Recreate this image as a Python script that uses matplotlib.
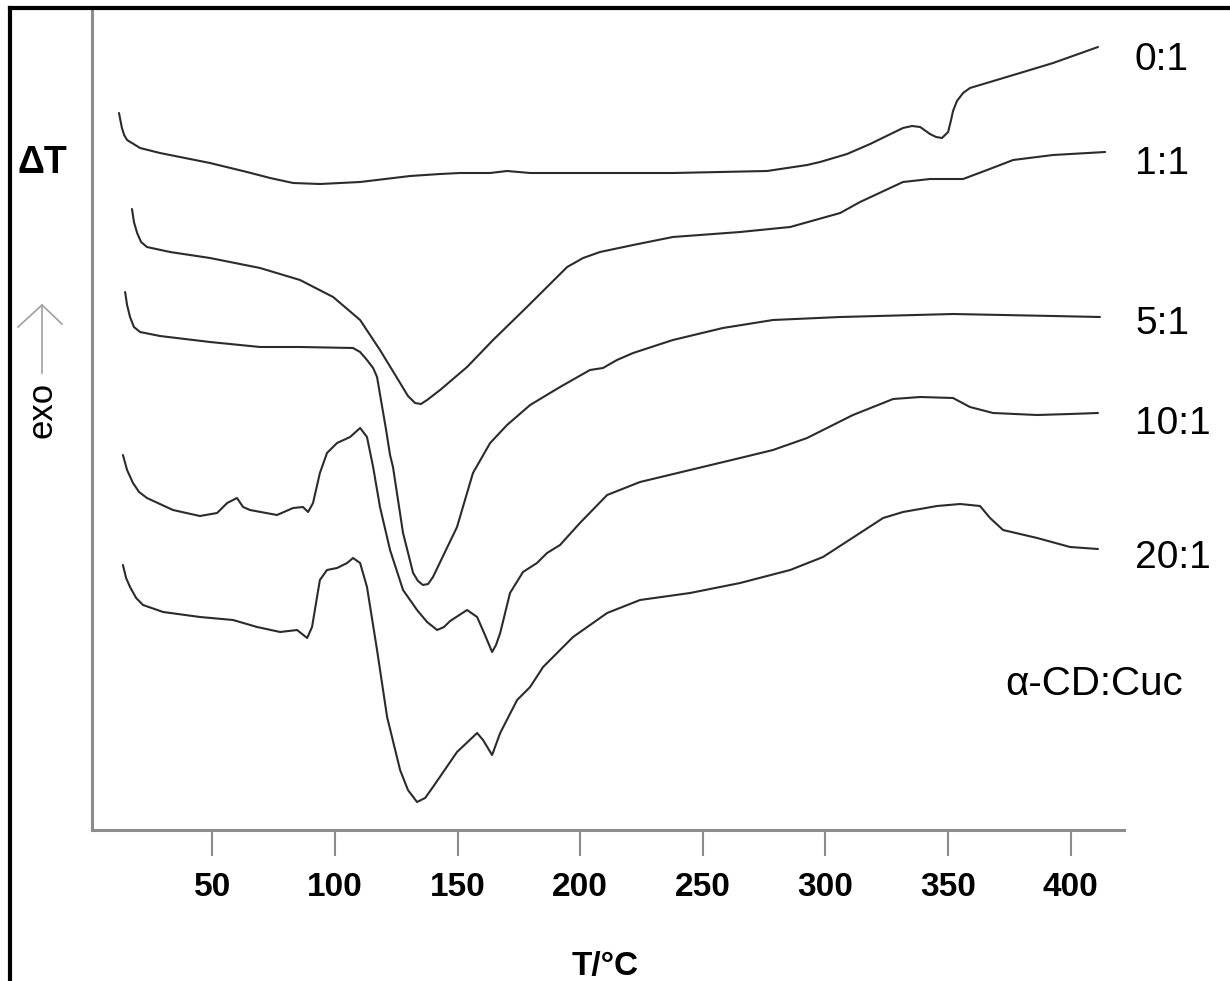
import matplotlib
matplotlib.use("Agg")
import matplotlib.pyplot as plt
from matplotlib.lines import Line2D

plt.rcParams['font.family'] = ['Liberation Sans', 'DejaVu Sans']

# DSC curves, temperature in degC, signal in arbitrary units
t_0_1 = [12.0, 13.2, 14.1, 15.3, 20.6, 28.7, 38.9, 49.1, 64.2, 73.6, 83.0, 93.9, 110.3, 130.7,
         142.9, 151.0, 163.3, 170.2, 179.6, 237.8, 276.2, 292.5, 297.8, 308.8, 318.2, 331.6,
         335.3, 338.6, 342.6, 345.1, 347.5, 350.0, 351.2, 352.0, 353.6, 356.1, 358.9, 363.0,
         379.3, 392.8, 411.1]
s_0_1 = [71.7, 70.2, 69.5, 69.0, 68.2, 67.7, 67.2, 66.7, 65.8, 65.2, 64.7, 64.6, 64.8, 65.4,
         65.6, 65.7, 65.7, 65.9, 65.7, 65.7, 65.9, 66.5, 66.8, 67.6, 68.6, 70.2,
         70.4, 70.3, 69.6, 69.3, 69.2, 69.8, 71.0, 71.9, 72.9, 73.7, 74.2, 74.5,
         75.7, 76.7, 78.3]

t_1_1 = [17.3, 18.1, 19.4, 21.0, 23.4, 32.8, 49.1, 69.5, 85.8, 99.3, 110.3, 118.4, 126.6, 129.8,
         132.7, 135.1, 137.6, 142.9, 153.9, 164.5, 178.3, 194.7, 201.2, 208.1, 221.6, 237.8,
         265.2, 285.6, 306.0, 314.1, 331.6, 342.6, 356.1, 365.9, 376.5, 392.8, 414.0]
s_1_1 = [62.1, 60.8, 59.7, 58.8, 58.3, 57.8, 57.2, 56.2, 55.0, 53.3, 51.0, 48.0, 44.7, 43.4,
         42.7, 42.6, 43.0, 44.0, 46.3, 49.0, 52.3, 56.3, 57.2, 57.8, 58.5, 59.3,
         59.8, 60.3, 61.7, 62.8, 64.8, 65.1, 65.1, 66.0, 67.0, 67.5, 67.8]

t_5_1 = [14.5, 15.3, 16.5, 18.1, 20.6, 28.7, 49.1, 69.5, 85.8, 107.4, 110.3, 113.1, 115.6, 117.2,
         118.8, 120.9, 122.5, 123.7, 127.8, 131.9, 133.9, 135.9, 138.0, 140.0, 149.8, 156.3,
         163.3, 170.2, 179.6, 191.8, 204.0, 209.3, 215.0, 221.6, 237.8, 258.2, 278.6, 306.0,
         352.0, 392.8, 411.9]
s_5_1 = [53.8, 52.5, 51.3, 50.3, 49.8, 49.4, 48.8, 48.3, 48.3, 48.2, 47.8, 47.0, 46.2, 45.3,
         43.0, 40.0, 37.5, 36.3, 29.7, 25.7, 24.9, 24.5, 24.6, 25.3, 30.3, 35.7,
         38.7, 40.5, 42.5, 44.3, 46.0, 46.2, 47.0, 47.7, 49.0, 50.2, 51.0, 51.3,
         51.6, 51.4, 51.3]

t_10_1 = [13.6, 15.3, 17.7, 20.2, 23.4, 34.0, 45.0, 52.0, 56.1, 60.1, 62.6, 65.4, 76.4, 83.0,
          87.0, 89.1, 91.1, 93.9, 96.8, 100.9, 106.2, 110.3, 113.1, 115.6, 118.4, 122.5, 127.8,
          133.5, 137.6, 141.7, 144.5, 147.0, 153.9, 158.0, 161.2, 164.1, 165.7, 167.4, 171.4,
          176.7, 182.4, 186.5, 191.8, 199.9, 211.0, 224.4, 244.8, 265.2, 278.6, 292.5, 311.2,
          327.6, 338.6, 352.0, 358.9, 368.3, 386.3, 399.7, 411.1]
s_10_1 = [37.5, 36.0, 34.7, 33.8, 33.2, 32.0, 31.4, 31.7, 32.7, 33.2, 32.3, 32.0, 31.5, 32.2,
          32.3, 31.8, 32.7, 35.7, 37.7, 38.7, 39.3, 40.2, 39.3, 36.3, 32.3, 28.0, 24.0,
          22.0, 20.8, 20.0, 20.3, 20.9, 22.0, 21.3, 19.5, 17.8, 18.5, 19.7, 23.7,
          25.8, 26.7, 27.7, 28.5, 30.7, 33.5, 34.8, 36.0, 37.2, 38.0, 39.2, 41.5,
          43.1, 43.3, 43.2, 42.3, 41.7, 41.5, 41.6, 41.7]

t_20_1 = [13.6, 14.9, 16.5, 19.0, 21.8, 30.0, 45.0, 58.5, 68.3, 77.7, 84.6, 88.7, 90.7, 93.9,
          96.8, 100.9, 105.0, 107.4, 110.3, 113.1, 117.2, 121.3, 126.6, 129.8, 133.5, 136.8,
          140.0, 149.8, 158.0, 160.4, 164.1, 167.4, 174.3, 179.6, 184.9, 197.1, 211.0, 224.4,
          244.8, 265.2, 285.6, 299.0, 314.1, 323.5, 331.6, 345.5, 354.9, 363.0, 367.1, 372.4,
          386.3, 399.7, 411.1]
s_20_1 = [26.5, 25.2, 24.3, 23.2, 22.5, 21.8, 21.3, 21.0, 20.3, 19.8, 20.0, 19.2, 20.3, 25.0,
          26.0, 26.2, 26.7, 27.2, 26.7, 24.3, 18.0, 11.3, 6.0, 4.0, 2.8, 3.2,
          4.3, 7.8, 9.7, 9.0, 7.5, 9.7, 13.0, 14.3, 16.3, 19.3, 21.7, 23.0,
          23.7, 24.7, 26.0, 27.3, 29.7, 31.2, 31.8, 32.4, 32.6, 32.4, 31.2, 30.0,
          29.2, 28.3, 28.1]

ratios = ["0:1", "1:1", "5:1", "10:1", "20:1"]
x_ticks = [50, 100, 150, 200, 250, 300, 350, 400]

W, H = 1230, 981
fig = plt.figure(figsize=(W / 100, H / 100), dpi=100)
ax = fig.add_axes([92 / W, 1 - 830 / H, (1124 - 92) / W, (830 - 10) / H])

for t, s in [(t_0_1, s_0_1), (t_1_1, s_1_1), (t_5_1, s_5_1), (t_10_1, s_10_1), (t_20_1, s_20_1)]:
    ax.plot(t, s, color="#2b2b2b", lw=1.5, solid_joinstyle="round", solid_capstyle="round")

ax.set_xlim(1.0, 421.7)
ax.set_ylim(0, 82.0)
ax.set_xticks(x_ticks)
ax.set_xticklabels([str(v) for v in x_ticks], fontsize=24, fontweight="bold")
ax.set_yticks([])
ax.tick_params(axis="x", direction="out", length=19, width=1.5, color="#8c8c8c", pad=11)
for side in ["top", "right"]:
    ax.spines[side].set_visible(False)
for side in ["left", "bottom"]:
    ax.spines[side].set_color("#8c8c8c")
    ax.spines[side].set_linewidth(2.2)

# labels on the right of each curve
label_y = [60, 164, 324, 424, 558]
for name, py in zip(ratios, label_y):
    fig.text(1135 / W, 1 - py / H, name, fontsize=28, ha="left", va="center")
fig.text(1094 / W, 1 - 684 / H, "\u03b1-CD:Cuc", fontsize=29, ha="center", va="center")

fig.text(605 / W, 1 - 966 / H, "T/\u00b0C", fontsize=24, fontweight="bold", ha="center", va="center")
fig.text(42 / W, 1 - 163 / H, "\u0394T", fontsize=27, fontweight="bold", ha="center", va="center")
fig.text(42 / W, 1 - 410 / H, "exo", fontsize=25, rotation=90, ha="center", va="center")

# exo arrow
arrow_c = "#a0a0a0"
fig.add_artist(Line2D([42 / W, 42 / W], [1 - 373 / H, 1 - 305 / H], color=arrow_c, lw=1.2))
fig.add_artist(Line2D([18 / W, 42 / W, 62 / W], [1 - 327 / H, 1 - 305 / H, 1 - 324 / H],
                      color=arrow_c, lw=1.2))

# frame of the scanned figure (top and left edges)
fig.add_artist(Line2D([10 / W, 1], [1 - 8 / H, 1 - 8 / H], color="black", lw=3))
fig.add_artist(Line2D([10 / W, 10 / W], [0, 1 - 8 / H], color="black", lw=3))

fig.savefig("out.png", dpi=100, facecolor="white")
